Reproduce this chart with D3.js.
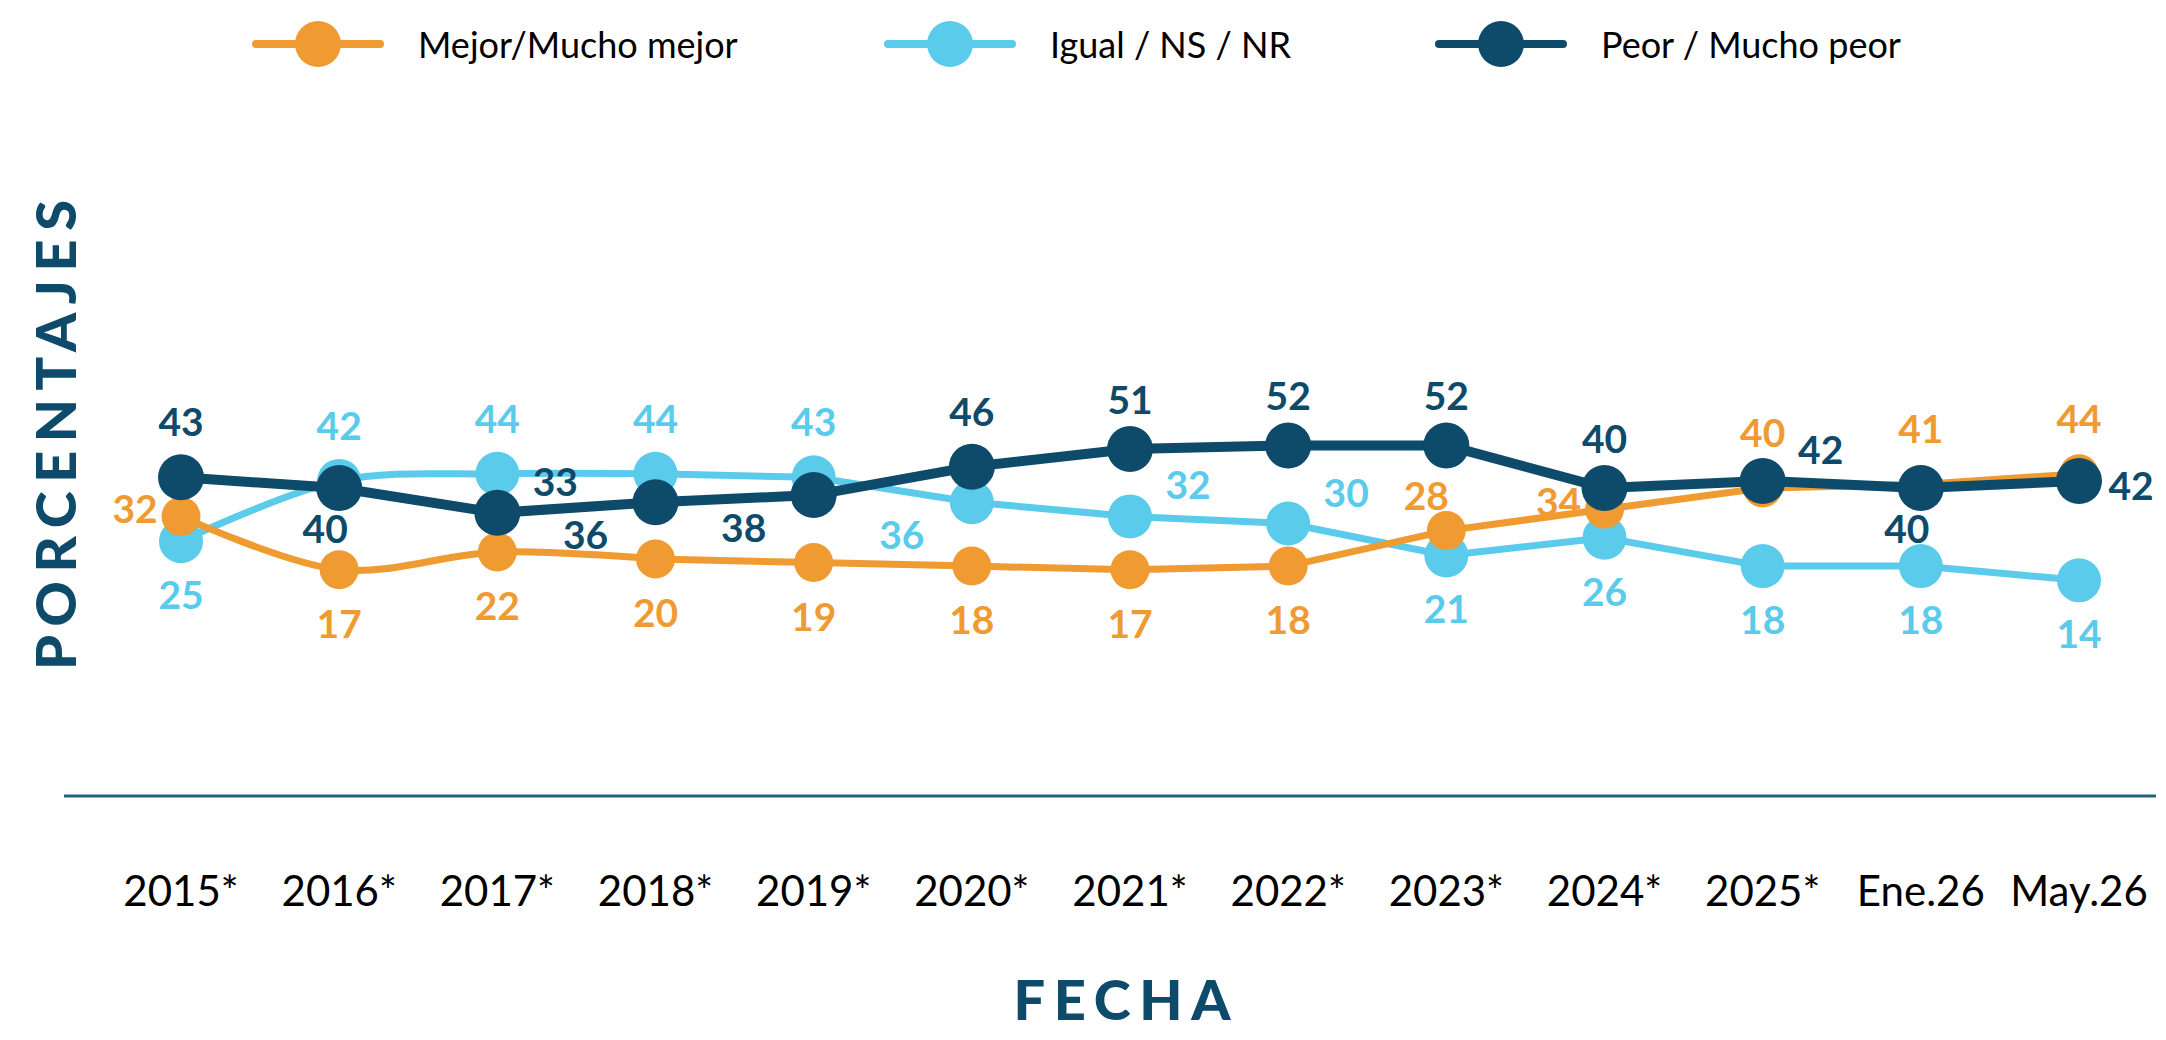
<html>
<head>
<meta charset="utf-8">
<style>
  body { margin: 0; background: #ffffff; font-family: Lato, "Open Sans", sans-serif; }
  svg { display: block; }
</style>
<script src="https://d3js.org/d3.v7.min.js"></script>
</head>
<body>
<svg id="chart"></svg>
<script>

// data
const categories = ["2015*", "2016*", "2017*", "2018*", "2019*", "2020*", "2021*", "2022*", "2023*", "2024*", "2025*", "Ene.26", "May.26"]
const mejor = [32, 17, 22, 20, 19, 18, 17, 18, 28, 34, 40, 41, 44]
const igual = [25, 42, 44, 44, 43, 36, 32, 30, 21, 26, 18, 18, 14]
const peor  = [43, 40, 33, 36, 38, 46, 51, 52, 52, 40, 42, 40, 42]
const seriesNames = ["Mejor/Mucho mejor", "Igual / NS / NR", "Peor / Mucho peor"]

// where each value label sits around its dot
const mejorSides = ["l", "b", "b", "b", "b", "b", "b", "b", "tl", "l", "t", "t", "t"]
const igualSides = ["b", "t", "t", "t", "t", "bl", "tr", "tr", "b", "b", "b", "b", "b"]
const peorSides  = ["t", "bs", "tr", "bl", "bl", "t", "t2", "t2", "t2", "t2", "tr", "bs", "r"]

const width = 2166, height = 1040
const svg = d3.select("#chart").attr("width", width).attr("height", height)

const x = d3.scalePoint().domain(categories).range([181, 2079])
const y = d3.scaleLinear().domain([0, 60]).range([630, 417])

const offsets = {
  t:  [0, -56], t2: [0, -50], b: [0, 53], l: [-46, -8], r: [52, 4],
  tr: [58, -32], tl: [-20, -36], bl: [-70, 32], bs: [-14, 40]
}

const series = [
  {name: seriesNames[1], values: igual, sides: igualSides, color: "#5BCBEB", width: 7, r: 22, smooth: true},
  {name: seriesNames[0], values: mejor, sides: mejorSides, color: "#EF9B32", width: 7, r: 19.5, smooth: true},
  {name: seriesNames[2], values: peor,  sides: peorSides,  color: "#0E4A6A", width: 10, r: 23, smooth: false}
]

// axis line
svg.append("line")
  .attr("x1", 64).attr("x2", 2156)
  .attr("y1", 796).attr("y2", 796)
  .attr("stroke", "#24607f").attr("stroke-width", 3)

// tick labels
svg.append("g").selectAll("text").data(categories)
  .enter().append("text")
  .attr("x", d => x(d))
  .attr("y", 906)
  .attr("text-anchor", "middle")
  .style("font-size", "42px")
  .attr("fill", "#000")
  .text(d => d)

let line = d3.line().x(d => x(d.cat)).y(d => y(d.v))

series.forEach(s => {
  let pts = categories.map((c, i) => ({cat: c, v: s.values[i], side: s.sides[i]}))
  let g = svg.append("g")
  if (s.smooth) {
    // the older years are drawn smoothed, the rest straight
    g.append("path").datum(pts.slice(0, 4))
      .attr("d", line.curve(d3.curveCatmullRom))
      .attr("fill", "none").attr("stroke", s.color).attr("stroke-width", s.width)
    g.append("path").datum(pts.slice(3))
      .attr("d", line.curve(d3.curveLinear))
      .attr("fill", "none").attr("stroke", s.color).attr("stroke-width", s.width)
  } else {
    g.append("path").datum(pts)
      .attr("d", line.curve(d3.curveLinear))
      .attr("fill", "none").attr("stroke", s.color).attr("stroke-width", s.width)
      .attr("stroke-linejoin", "round")
  }
  g.selectAll("circle").data(pts)
    .enter().append("circle")
    .attr("cx", d => x(d.cat))
    .attr("cy", d => y(d.v))
    .attr("r", s.r)
    .attr("fill", s.color)
  g.selectAll("text").data(pts)
    .enter().append("text")
    .attr("x", d => x(d.cat) + offsets[d.side][0])
    .attr("y", d => y(d.v) + offsets[d.side][1])
    .attr("text-anchor", "middle")
    .attr("dominant-baseline", "central")
    .style("font-size", "39px")
    .style("font-weight", "bold")
    .attr("fill", s.color)
    .text(d => d.v)
})

// legend
let legendX = [318, 950, 1501]
let legendOrder = series.slice().sort((a, b) => seriesNames.indexOf(a.name) - seriesNames.indexOf(b.name))
let leg = svg.append("g").selectAll("g").data(legendOrder)
  .enter().append("g")
  .attr("transform", (d, i) => `translate(${legendX[i]},44)`)
leg.append("line")
  .attr("x1", -62).attr("x2", 62)
  .attr("stroke", d => d.color).attr("stroke-width", 8)
  .attr("stroke-linecap", "round")
leg.append("circle").attr("r", 23).attr("fill", d => d.color)
leg.append("text")
  .attr("x", 100).attr("y", 14)
  .style("font-size", "36px")
  .attr("fill", "#000")
  .text(d => d.name)

// axis titles
svg.append("text")
  .attr("transform", "translate(76,435) rotate(-90)")
  .attr("text-anchor", "middle")
  .attr("textLength", 470).attr("lengthAdjust", "spacing")
  .style("font-size", "56px").style("font-weight", 900)
  .attr("fill", "#0E4A6A")
  .text("PORCENTAJES")

svg.append("text")
  .attr("x", 1122).attr("y", 1020)
  .attr("text-anchor", "middle")
  .attr("textLength", 217).attr("lengthAdjust", "spacing")
  .style("font-size", "56px").style("font-weight", 900)
  .attr("fill", "#0E4A6A")
  .text("FECHA")

</script>
</body>
</html>
